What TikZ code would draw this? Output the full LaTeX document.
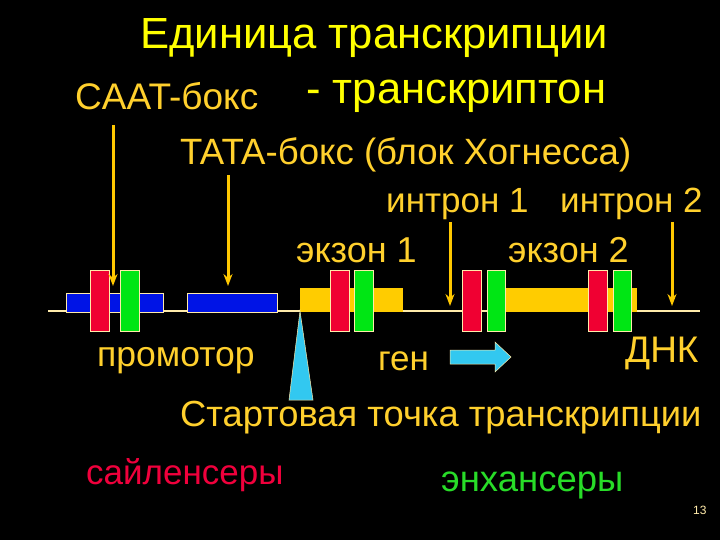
\documentclass[tikz,border=0pt]{standalone}
\usepackage{fontspec}
\setmainfont{Liberation Sans}
\usetikzlibrary{arrows.meta}
\definecolor{titleyel}{RGB}{255,255,0}
\definecolor{lblgold}{RGB}{255,208,45}
\definecolor{arrgold}{RGB}{255,200,0}
\definecolor{genegold}{RGB}{255,204,0}
\definecolor{dnaline}{RGB}{255,235,170}
\definecolor{boxblue}{RGB}{0,20,230}
\definecolor{boxred}{RGB}{240,0,50}
\definecolor{boxgreen}{RGB}{0,230,20}
\definecolor{cyanfill}{RGB}{50,200,240}
\definecolor{silred}{RGB}{240,0,60}
\definecolor{enhgreen}{RGB}{40,220,40}
\newcommand{\fs}[1]{\fontsize{#1}{#1}\selectfont}
\begin{document}
\begin{tikzpicture}[x=1pt,y=-1pt,
  txt/.style={inner sep=0pt, anchor=base west},
  lbl/.style={txt, text=lblgold, font=\fs{36}},
  ttl/.style={txt, text=titleyel, font=\fs{43.6}},
  arr/.style={draw=arrgold, line width=3pt, -{Stealth[length=12pt,width=9pt]}},
  outl/.style={draw=dnaline, line width=0.6pt},
  bluebox/.style={outl, fill=boxblue},
  redbox/.style={outl, fill=boxred},
  greenbox/.style={outl, fill=boxgreen},
  goldbox/.style={fill=genegold},
  cyanshape/.style={fill=cyanfill, draw=dnaline, line width=0.5pt}
]
\fill[black] (0,0) rectangle (720,540);
\useasboundingbox (0,0) rectangle (720,540);

% titles
\node[ttl] (t1) at (140,49) {Единица транскрипции};
\node[ttl] (t2) at (306,104) {- транскриптон};
\node[lbl, font=\fs{37}] (caat) at (75,110) {CAAT-бокс};
\node[lbl, font=\fs{36.6}] (tata) at (180,165) {TATA-бокс (блок Хогнесса)};
\node[lbl, font=\fs{35}] (intr1) at (386,213) {интрон 1};
\node[lbl, font=\fs{35}] (intr2) at (560,213) {интрон 2};
\node[lbl] (ex1) at (296,262) {экзон 1};
\node[lbl] (ex2) at (508,262) {экзон 2};

% DNA line
\draw[draw=dnaline, line width=2pt] (48,311) -- (700,311);

% blue promoter boxes
\draw[bluebox] (66,293) rectangle (163,312);
\draw[bluebox] (187,293) rectangle (277,312);

% gene blocks
\fill[goldbox] (300,288) rectangle (403,312);
\fill[goldbox] (500,288) rectangle (637,312);

% red / green boxes
\draw[redbox] (90,270) rectangle (109,331);
\draw[greenbox] (120,270) rectangle (139,331);
\draw[redbox] (330,270) rectangle (349,331);
\draw[greenbox] (354,270) rectangle (373,331);
\draw[redbox] (462,270) rectangle (481,331);
\draw[greenbox] (487,270) rectangle (505,331);
\draw[redbox] (588,270) rectangle (607,331);
\draw[greenbox] (613,270) rectangle (631,331);

% arrows
\coordinate (a1s) at (113,125); \coordinate (a1e) at (113,286);
\coordinate (a2s) at (228,175); \coordinate (a2e) at (228,286);
\coordinate (a3s) at (450,222); \coordinate (a3e) at (450,306);
\coordinate (a4s) at (672,222); \coordinate (a4e) at (672,306);
\draw[arr] (a1s) -- (a1e);
\draw[arr] (a2s) -- (a2e);
\draw[arr] (a3s) -- (a3e);
\draw[arr] (a4s) -- (a4e);

% start point triangle
\draw[cyanshape] (300,311) -- (289,400) -- (313,400) -- cycle;

% gene direction arrow
\draw[cyanshape] (450,350) -- (495,350) -- (495,342) -- (511,357) -- (495,372) -- (495,364) -- (450,364) -- cycle;

% lower labels
\node[lbl, font=\fs{35.5}] (prom) at (97,366) {промотор};
\node[lbl, font=\fs{35}] (gen) at (378,370) {ген};
\node[lbl, font=\fs{37}] (dnk) at (625,362) {ДНК};
\node[lbl, font=\fs{36.3}] (start) at (180,426) {Стартовая точка транскрипции};
\node[txt, text=silred, font=\fs{35}] (sil) at (86,484) {сайленсеры};
\node[txt, text=enhgreen, font=\fs{36.5}] (enh) at (441,491) {энхансеры};
\node[txt, text=dnaline, font=\fs{12}] (pg) at (693,514) {13};
\end{tikzpicture}
\end{document}
